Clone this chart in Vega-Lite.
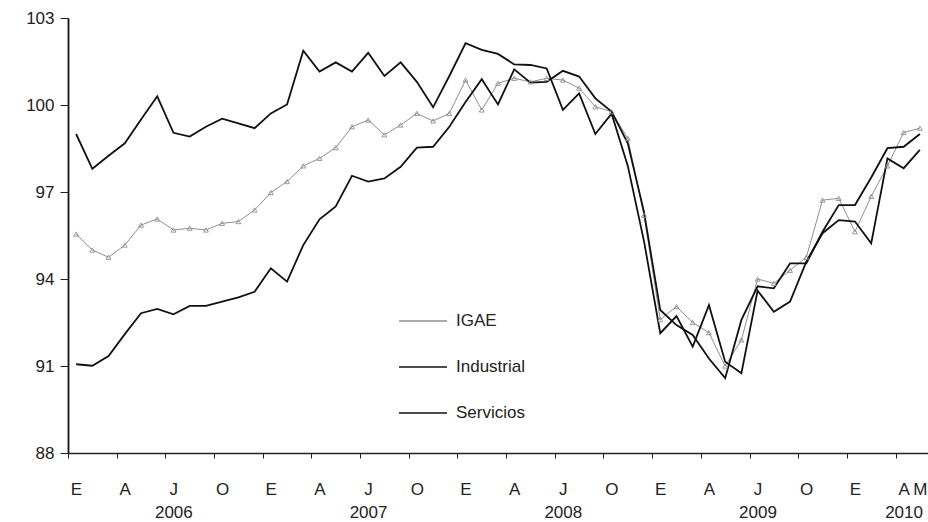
{
  "$schema": "https://vega.github.io/schema/vega-lite/v6.json",
  "width": 860,
  "height": 435,
  "autosize": "none",
  "padding": {"left": 68, "top": 18, "right": 0, "bottom": 69},
  "background": "white",
  "config": {"view": {"stroke": null}, "font": "Liberation Sans"},
  "data": {"values": [
    {"m": 0, "IGAE": 95.55, "Industrial": 99.0, "Servicios": 91.06},
    {"m": 1, "IGAE": 95.0, "Industrial": 97.8, "Servicios": 91.01},
    {"m": 2, "IGAE": 94.75, "Industrial": 98.25, "Servicios": 91.34},
    {"m": 3, "IGAE": 95.17, "Industrial": 98.68, "Servicios": 92.1},
    {"m": 4, "IGAE": 95.86, "Industrial": 99.5, "Servicios": 92.82},
    {"m": 5, "IGAE": 96.07, "Industrial": 100.3, "Servicios": 92.97},
    {"m": 6, "IGAE": 95.69, "Industrial": 99.04, "Servicios": 92.78},
    {"m": 7, "IGAE": 95.75, "Industrial": 98.91, "Servicios": 93.07},
    {"m": 8, "IGAE": 95.69, "Industrial": 99.25, "Servicios": 93.07},
    {"m": 9, "IGAE": 95.92, "Industrial": 99.53, "Servicios": 93.22},
    {"m": 10, "IGAE": 95.98, "Industrial": 99.37, "Servicios": 93.37},
    {"m": 11, "IGAE": 96.38, "Industrial": 99.2, "Servicios": 93.56},
    {"m": 12, "IGAE": 96.98, "Industrial": 99.71, "Servicios": 94.37},
    {"m": 13, "IGAE": 97.36, "Industrial": 100.02, "Servicios": 93.91},
    {"m": 14, "IGAE": 97.9, "Industrial": 101.87, "Servicios": 95.17},
    {"m": 15, "IGAE": 98.16, "Industrial": 101.15, "Servicios": 96.06},
    {"m": 16, "IGAE": 98.53, "Industrial": 101.47, "Servicios": 96.5},
    {"m": 17, "IGAE": 99.25, "Industrial": 101.15, "Servicios": 97.56},
    {"m": 18, "IGAE": 99.48, "Industrial": 101.8, "Servicios": 97.36},
    {"m": 19, "IGAE": 98.97, "Industrial": 101.0, "Servicios": 97.47},
    {"m": 20, "IGAE": 99.31, "Industrial": 101.47, "Servicios": 97.87},
    {"m": 21, "IGAE": 99.71, "Industrial": 100.8, "Servicios": 98.53},
    {"m": 22, "IGAE": 99.45, "Industrial": 99.92, "Servicios": 98.56},
    {"m": 23, "IGAE": 99.71, "Industrial": 101.0, "Servicios": 99.25},
    {"m": 24, "IGAE": 100.86, "Industrial": 102.13, "Servicios": 100.1},
    {"m": 25, "IGAE": 99.83, "Industrial": 101.9, "Servicios": 100.89},
    {"m": 26, "IGAE": 100.75, "Industrial": 101.76, "Servicios": 100.02},
    {"m": 27, "IGAE": 100.92, "Industrial": 101.4, "Servicios": 101.23},
    {"m": 28, "IGAE": 100.8, "Industrial": 101.38, "Servicios": 100.77},
    {"m": 29, "IGAE": 100.92, "Industrial": 101.26, "Servicios": 100.8},
    {"m": 30, "IGAE": 100.86, "Industrial": 99.83, "Servicios": 101.18},
    {"m": 31, "IGAE": 100.58, "Industrial": 100.4, "Servicios": 100.98},
    {"m": 32, "IGAE": 99.94, "Industrial": 99.0, "Servicios": 100.23},
    {"m": 33, "IGAE": 99.77, "Industrial": 99.7, "Servicios": 99.77},
    {"m": 34, "IGAE": 98.85, "Industrial": 97.9, "Servicios": 98.68},
    {"m": 35, "IGAE": 96.2, "Industrial": 95.3, "Servicios": 96.3},
    {"m": 36, "IGAE": 92.6, "Industrial": 92.13, "Servicios": 92.93},
    {"m": 37, "IGAE": 93.05, "Industrial": 92.72, "Servicios": 92.41},
    {"m": 38, "IGAE": 92.5, "Industrial": 91.67, "Servicios": 92.07},
    {"m": 39, "IGAE": 92.15, "Industrial": 93.1, "Servicios": 91.26},
    {"m": 40, "IGAE": 91.0, "Industrial": 91.15, "Servicios": 90.58},
    {"m": 41, "IGAE": 91.9, "Industrial": 90.75, "Servicios": 92.59},
    {"m": 42, "IGAE": 94.0, "Industrial": 93.6, "Servicios": 93.75},
    {"m": 43, "IGAE": 93.85, "Industrial": 92.87, "Servicios": 93.68},
    {"m": 44, "IGAE": 94.3, "Industrial": 93.22, "Servicios": 94.54},
    {"m": 45, "IGAE": 94.75, "Industrial": 94.6, "Servicios": 94.54},
    {"m": 46, "IGAE": 96.72, "Industrial": 95.58, "Servicios": 95.63},
    {"m": 47, "IGAE": 96.78, "Industrial": 96.03, "Servicios": 96.55},
    {"m": 48, "IGAE": 95.63, "Industrial": 95.98, "Servicios": 96.55},
    {"m": 49, "IGAE": 96.85, "Industrial": 95.23, "Servicios": 97.5},
    {"m": 50, "IGAE": 97.9, "Industrial": 98.16, "Servicios": 98.51},
    {"m": 51, "IGAE": 99.05, "Industrial": 97.82, "Servicios": 98.56},
    {"m": 52, "IGAE": 99.2, "Industrial": 98.45, "Servicios": 99.0}
  ]},
  "transform": [{"fold": ["IGAE", "Industrial", "Servicios"], "as": ["serie", "v"]}],
  "encoding": {
    "x": {
      "field": "m", "type": "quantitative",
      "scale": {"domain": [-0.5, 52.5], "nice": false, "zero": false},
      "axis": {
        "title": null, "grid": false,
        "values": [-0.5, 2.5, 5.5, 8.5, 11.5, 14.5, 17.5, 20.5, 23.5, 26.5, 29.5, 32.5, 35.5, 38.5, 41.5, 44.5, 47.5, 50.5, 51.5],
        "labelExpr": "datum.value > 51 ? 'M' : (datum.value > 50 ? ['A', '2010'] : ((((datum.value + 0.5) / 3) % 4) == 2 ? ['J', '' + (2006 + floor((datum.value + 0.5) / 12))] : ['E', 'A', 'J', 'O'][((datum.value + 0.5) / 3) % 4]))",
        "labelOffset": 8, "labelFlush": false, "labelOverlap": false, "labelBound": false,
        "labelFontSize": 17, "labelColor": "#222", "labelPadding": 23, "labelLineHeight": 23,
        "tickSize": 5, "tickColor": "#222", "tickWidth": 1,
        "tickOpacity": {"condition": {"test": "datum.value > 51", "value": 0}, "value": 1},
        "domainColor": "#222", "domainWidth": 1.5
      }
    },
    "y": {
      "field": "v", "type": "quantitative",
      "scale": {"domain": [88, 103], "nice": false, "zero": false},
      "axis": {
        "title": null, "grid": false, "values": [88, 91, 94, 97, 100, 103],
        "labelFontSize": 17, "labelColor": "#222", "labelPadding": 6,
        "tickSize": 8, "tickColor": "#222", "tickWidth": 1,
        "domainColor": "#111", "domainWidth": 1.8
      }
    }
  },
  "layer": [
    {
      "mark": {"type": "line"},
      "encoding": {
        "color": {
          "field": "serie", "type": "nominal",
          "scale": {"domain": ["IGAE", "Industrial", "Servicios"], "range": ["#8f8f8f", "#111111", "#111111"]},
          "legend": {
            "orient": "none", "legendX": 330, "legendY": 278, "title": null,
            "symbolType": "stroke", "symbolSize": 2304, "symbolStrokeWidth": 1.5,
            "labelFontSize": 17, "labelColor": "#222", "labelOffset": 8,
            "rowPadding": 13, "padding": 0
          }
        },
        "strokeWidth": {"condition": {"test": "datum.serie == 'IGAE'", "value": 1}, "value": 1.8}
      }
    },
    {
      "transform": [{"filter": "datum.serie == 'IGAE'"}],
      "mark": {"type": "point", "shape": "triangle-up", "size": 24, "filled": false, "stroke": "#8f8f8f", "strokeWidth": 0.9, "opacity": 1}
    }
  ]
}
